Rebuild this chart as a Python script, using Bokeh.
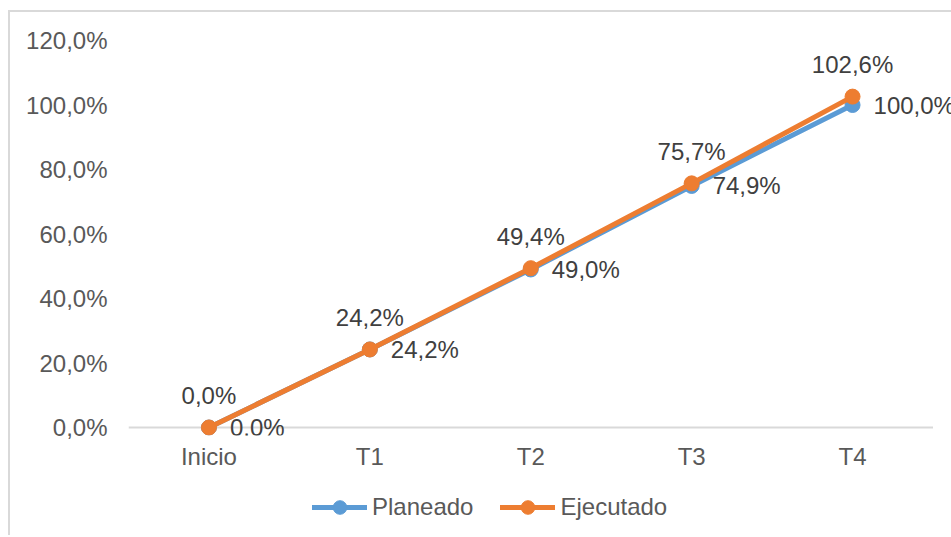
from bokeh.plotting import figure
from bokeh.layouts import column
from bokeh.models import (Range1d, FixedTicker, Legend, LegendItem, ColumnDataSource,
                          Segment)
from bokeh.core.properties import value
from bokeh.embed import file_html
from bokeh.resources import INLINE

# Avance planeado vs. ejecutado por trimestre
categories = ["Inicio", "T1", "T2", "T3", "T4"]
planeado = [0.0, 0.242, 0.490, 0.749, 1.000]
ejecutado = [0.0, 0.242, 0.494, 0.757, 1.026]
y_ticks = [0.0, 0.2, 0.4, 0.6, 0.8, 1.0, 1.2]

BLUE = "#5B9BD5"
ORANGE = "#ED7D31"
FONT = "Liberation Sans"
FS = "24px"


def pct(v):
    return f"{v * 100:.1f}".replace(".", ",") + "%"


xs = list(range(len(categories)))

# the chart sits in a box with a 2px grey border, 8px from the page's left
# edge and 10px from its top; canvas coordinates start inside that border
OX, OY = 10, 12
W = 951 - OX
H_MAIN, H_LEG = 470, 53
left = 128 - OX
top = 20 - OY
bottom_px = 435 - OY
zero_px = 427 - OY
px_per_unit = 322.5
cat_px = 160.85

x_end = 4.5 + (951 - 932.5) / cat_px
y_end = 1.2 + (40 - OY - top) / px_per_unit
y_start = -(bottom_px - zero_px) / px_per_unit

p = figure(width=W, height=H_MAIN, output_backend="svg", toolbar_location=None,
           x_range=Range1d(-0.5, x_end), y_range=Range1d(y_start, y_end),
           min_border_left=left, min_border_right=0, min_border_top=top,
           min_border_bottom=H_MAIN - bottom_px)
p.outline_line_color = None
p.grid.visible = False
p.background_fill_color = "white"
p.border_fill_color = "white"

# y axis
ya = p.yaxis[0]
ya.ticker = FixedTicker(ticks=y_ticks)
ya.major_label_overrides = {t: pct(t) for t in y_ticks}
ya.axis_line_color = None
ya.major_tick_line_color = None
ya.minor_tick_line_color = None
ya.major_label_standoff = 15
ya.major_label_text_font = FONT
ya.major_label_text_font_size = FS
ya.major_label_text_color = "#595959"

# x axis
xa = p.xaxis[0]
xa.ticker = FixedTicker(ticks=xs)
xa.major_label_overrides = {i: c for i, c in enumerate(categories)}
xa.axis_line_color = None
xa.major_tick_line_color = None
xa.minor_tick_line_color = None
xa.major_label_standoff = 1
xa.major_label_text_font = FONT
xa.major_label_text_font_size = FS
xa.major_label_text_color = "#595959"

# baseline at 0 %
base = ColumnDataSource(dict(x0=[-0.5], x1=[4.5], y0=[0.0], y1=[0.0]))
p.add_glyph(base, Segment(x0="x0", y0="y0", x1="x1", y1="y1",
                          line_color="#D9D9D9", line_width=2))

src_p = ColumnDataSource(dict(x=xs, y=planeado, lbl=[pct(v) for v in planeado]))
src_e = ColumnDataSource(dict(x=xs, y=ejecutado, lbl=[pct(v) for v in ejecutado]))

line_kw = dict(line_width=5, line_cap="round")
p.line("x", "y", source=src_p, line_color=BLUE, **line_kw)
p.scatter("x", "y", source=src_p, size=15, fill_color=BLUE, line_color=BLUE)
p.line("x", "y", source=src_e, line_color=ORANGE, **line_kw)
p.scatter("x", "y", source=src_e, size=15, fill_color=ORANGE, line_color=ORANGE)

p.text("x", "y", text="lbl", source=src_p, x_offset=21, y_offset=0,
       text_align="left", text_baseline="middle",
       text_font=value(FONT), text_font_size=FS, text_color="#404040")
p.text("x", "y", text="lbl", source=src_e, x_offset=0, y_offset=-32,
       text_align="center", text_baseline="alphabetic",
       text_font=value(FONT), text_font_size=FS, text_color="#404040")

# legend strip under the plot (its frame is aligned with the plot's frame)
pl = figure(width=W, height=H_LEG, output_backend="svg", toolbar_location=None,
            x_range=Range1d(0, 1), y_range=Range1d(0, 1),
            x_axis_type=None, y_axis_type=None,
            min_border_left=0, min_border_right=0, min_border_top=0,
            min_border_bottom=0)
pl.outline_line_color = None
pl.grid.visible = False
pl.background_fill_color = "white"
pl.border_fill_color = "white"

nan = float("nan")


def key_source():
    return ColumnDataSource(dict(x=[nan], y=[nan]))


kp_l = pl.line(x="x", y="y", source=key_source(), line_color=BLUE, **line_kw)
kp_c = pl.scatter(x="x", y="y", source=key_source(), fill_color=BLUE, line_color=BLUE)
ke_l = pl.line(x="x", y="y", source=key_source(), line_color=ORANGE, **line_kw)
ke_c = pl.scatter(x="x", y="y", source=key_source(), fill_color=ORANGE,
                  line_color=ORANGE)

legend = Legend(items=[LegendItem(label="Planeado", renderers=[kp_l, kp_c]),
                       LegendItem(label="Ejecutado", renderers=[ke_l, ke_c])],
                orientation="horizontal", location=(312 - 128, 11),
                glyph_width=55, glyph_height=34, label_standoff=5, spacing=27,
                padding=0, margin=0, border_line_color=None,
                background_fill_alpha=0,
                label_text_font=FONT, label_text_font_size=FS,
                label_text_color="#595959")
pl.add_layout(legend, "center")

layout = column(p, pl, spacing=0, margin=(10, 0, 0, 8),
                styles={"border-left": "2px solid #D9D9D9",
                        "border-top": "2px solid #D9D9D9"})

open("out.html", "w").write(file_html(layout, INLINE))
